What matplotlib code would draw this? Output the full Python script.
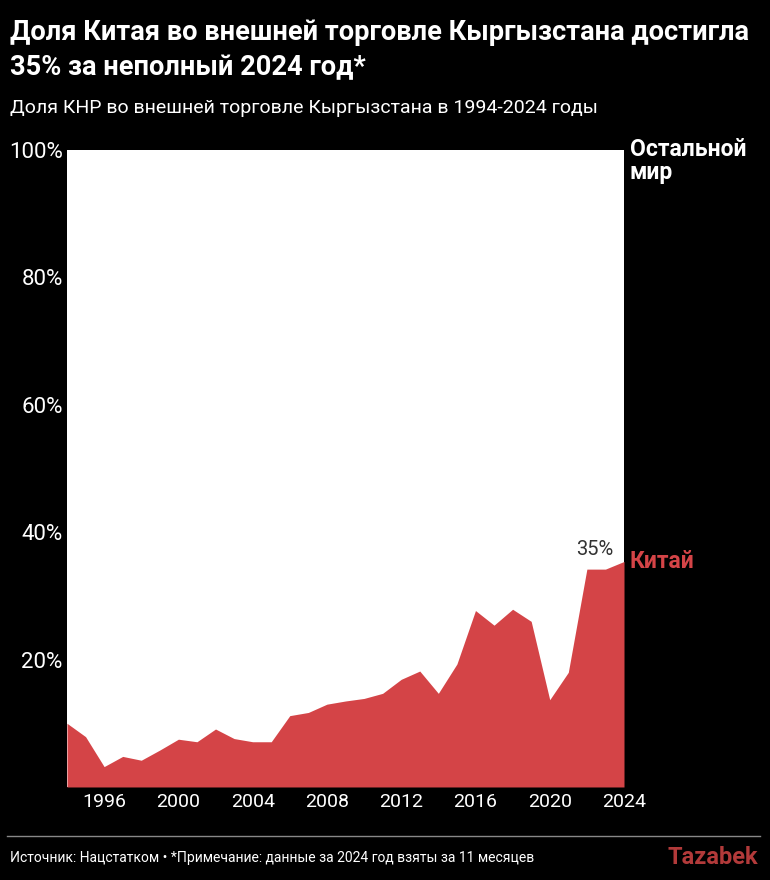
import matplotlib
matplotlib.use("Agg")
import matplotlib.pyplot as plt
from matplotlib import font_manager

years = list(range(1994, 2025))
china_share = [10.0, 7.9, 3.2, 4.8, 4.2, 5.8, 7.5, 7.1, 9.1, 7.6, 7.1, 7.1, 11.2, 11.7, 13.0, 13.5,
               13.9, 14.7, 16.9, 18.2, 14.7, 19.3, 27.7, 25.4, 27.9, 26.0, 13.7, 18.0, 34.2, 34.2, 35.4]
y_ticks = [20, 40, 60, 80, 100]
y_tick_labels = ["20%", "40%", "60%", "80%", "100%"]
x_ticks = list(range(1996, 2025, 4))

names = {f.name for f in font_manager.fontManager.ttflist}
cond = "Liberation Sans Narrow" if "Liberation Sans Narrow" in names else "Roboto"
plt.rcParams['font.family'] = [cond, 'DejaVu Sans']

RED = "#d44447"
fig = plt.figure(figsize=(7.7, 8.8), dpi=100, facecolor="black")
ax = fig.add_axes([0.0870, 0.1057, 0.7234, 0.7239])
ax.set_facecolor("white")
ax.fill_between(years, 0, china_share, color=RED, linewidth=0)
ax.set_xlim(1994, 2024)
ax.set_ylim(0, 100)
for s in ax.spines.values():
    s.set_visible(False)
ax.set_yticks(y_ticks)
ax.set_yticklabels(y_tick_labels, color="white", fontsize=16)
ax.set_xticks(x_ticks)
ax.set_xticklabels([str(x) for x in x_ticks], color="white", fontsize=14)
ax.tick_params(axis="both", length=0, pad=4)
ax.tick_params(axis="y", pad=3)

ax.annotate("35%", xy=(years[-2], china_share[-2]), xytext=(-8, 7), textcoords="offset points",
            ha="center", va="bottom", fontsize=14.5, color="#333333")
ax.text(1.01, china_share[-1] / 100, "Китай", transform=ax.transAxes, color=RED,
        fontsize=16.5, fontweight="bold", ha="left", va="center")
ax.text(1.01, 1.018, "Остальной\nмир", transform=ax.transAxes, color="white",
        fontsize=16.5, fontweight="bold", ha="left", va="top", linespacing=0.95)

fig.text(10 / 770, 1 - 32 / 880, "Доля Китая во внешней торговле Кыргызстана достигла",
         color="white", fontsize=19.6, fontweight="bold", ha="left", va="center")
fig.text(10 / 770, 1 - 68 / 880, "35% за неполный 2024 год*",
         color="white", fontsize=19.6, fontweight="bold", ha="left", va="center")
fig.text(10 / 770, 1 - 108 / 880, "Доля КНР во внешней торговле Кыргызстана в 1994-2024 годы",
         color="white", fontsize=14, ha="left", va="center")

fig.add_artist(plt.Line2D([7 / 770, 760 / 770], [1 - 836 / 880] * 2, color="#888888", linewidth=1))
fig.text(10 / 770, 1 - 858 / 880, "Источник: Нацстатком • *Примечание: данные за 2024 год взяты за 11 месяцев",
         color="white", fontsize=10, ha="left", va="center")
fig.text(758 / 770, 1 - 857 / 880, "Tazabek", color="#b23a3a", fontsize=17, fontweight="bold",
         ha="right", va="center")

fig.savefig("out.png", dpi=100, facecolor="black")
